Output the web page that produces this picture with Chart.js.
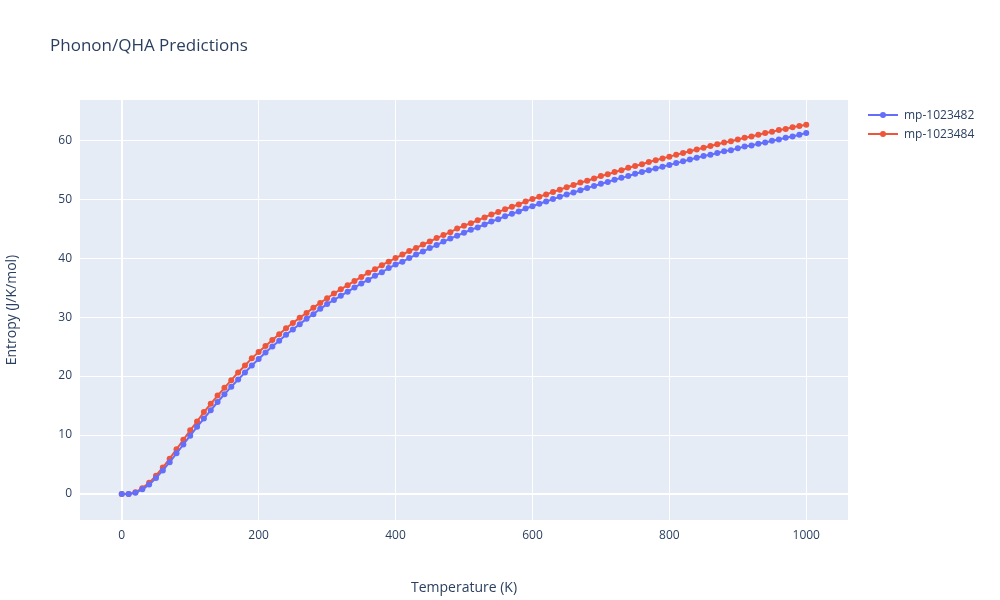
<!DOCTYPE html>
<html>
<head>
<meta charset="utf-8">
<script src="https://cdn.jsdelivr.net/npm/chart.js@4/dist/chart.umd.min.js"></script>
<style>
  body { margin: 0; background: #fff; font-family: "Open Sans", sans-serif; }
  #wrap { position: relative; width: 1000px; height: 600px; }
  #title { position: absolute; left: 50px; top: 33px; font-size: 17px; color: #2a3f5f; }
  #legend { position: absolute; left: 868px; top: 105px; font-size: 12px; color: #2a3f5f; }
  .item { height: 19px; display: flex; align-items: center; }
  .sw { position: relative; width: 30px; height: 2px; margin-right: 6px; }
  .sw i { position: absolute; left: 12px; top: -2px; width: 6px; height: 6px; border-radius: 3px; }
</style>
</head>
<body>
<div id="wrap">
  <canvas id="c" width="1000" height="600"></canvas>
  <div id="title">Phonon/QHA Predictions</div>
  <div id="legend"></div>
</div>
<script>
const temps = [];
for (let t = 0; t <= 1000; t += 10) temps.push(t);

const names = ["mp-1023482", "mp-1023484"];
const colors = ["#636efa", "#ef553b"];

const blue = [0, 0.01, 0.2, 0.8, 1.6, 2.7, 4.0, 5.4, 6.9, 8.4, 9.9, 11.4, 12.8, 14.2, 15.6, 16.9, 18.2, 19.4, 20.6, 21.8,
  22.9, 24.0, 25.0, 26.0, 27.0, 27.9, 28.8, 29.7, 30.5, 31.4,
  32.2, 32.9, 33.6, 34.3, 35.0, 35.7, 36.3, 37.0, 37.6, 38.3,
  38.9, 39.4, 40.0, 40.6, 41.1, 41.7, 42.2, 42.8, 43.3, 43.8,
  44.3, 44.8, 45.2, 45.7, 46.2, 46.6, 47.1, 47.5, 47.9, 48.4,
  48.8, 49.2, 49.6, 50.0, 50.4, 50.8, 51.1, 51.5, 51.9, 52.2,
  52.6, 52.9, 53.3, 53.6, 53.9, 54.3, 54.6, 54.9, 55.2, 55.5,
  55.8, 56.1, 56.4, 56.7, 57.0, 57.3, 57.5, 57.8, 58.1, 58.3,
  58.6, 58.9, 59.1, 59.4, 59.6, 59.9, 60.1, 60.4, 60.6, 60.9, 61.2];

const red = [0, 0.02, 0.3, 1.0, 1.9, 3.1, 4.5, 6.0, 7.6, 9.2, 10.8, 12.3, 13.9, 15.3, 16.7, 18.0, 19.3, 20.6, 21.8, 23.0,
  24.1, 25.1, 26.1, 27.1, 28.1, 29.0, 29.9, 30.7, 31.6, 32.4,
  33.2, 34.0, 34.7, 35.4, 36.1, 36.8, 37.5, 38.1, 38.8, 39.4,
  40.0, 40.6, 41.2, 41.7, 42.3, 42.8, 43.4, 43.9, 44.4, 45.0,
  45.5, 45.9, 46.4, 46.9, 47.4, 47.8, 48.3, 48.7, 49.1, 49.6,
  50.0, 50.4, 50.8, 51.2, 51.6, 52.0, 52.4, 52.8, 53.1, 53.5,
  53.9, 54.2, 54.6, 54.9, 55.3, 55.6, 55.9, 56.3, 56.6, 56.9,
  57.2, 57.5, 57.8, 58.1, 58.4, 58.7, 59.0, 59.3, 59.6, 59.8,
  60.1, 60.4, 60.6, 60.9, 61.2, 61.4, 61.7, 61.9, 62.2, 62.4, 62.6];

const series = [blue, red];

document.getElementById("legend").innerHTML = names.map((n, i) =>
  `<div class="item"><div class="sw" style="background:${colors[i]}"><i style="background:${colors[i]}"></i></div>${n}</div>`
).join("");

const bgPlugin = {
  id: "bg",
  beforeDraw(chart) {
    const a = chart.chartArea, ctx = chart.ctx;
    ctx.save();
    ctx.fillStyle = "#e5ecf6";
    ctx.fillRect(a.left, a.top, a.right - a.left, a.bottom - a.top);
    ctx.restore();
  }
};

const font = { family: "Open Sans", size: 12 };

new Chart(document.getElementById("c").getContext("2d"), {
  type: "line",
  data: {
    datasets: series.map((s, i) => ({
      label: names[i],
      data: s.map((v, j) => ({ x: temps[j], y: v })),
      borderColor: colors[i],
      backgroundColor: colors[i],
      borderWidth: 2,
      pointRadius: 3,
      pointBorderWidth: 0,
      tension: 0
    }))
  },
  options: {
    responsive: false,
    animation: false,
    layout: { padding: { left: 0, top: 100, right: 152, bottom: 0 } },
    plugins: { legend: { display: false }, tooltip: { enabled: false } },
    scales: {
      x: {
        type: "linear", min: -61, max: 1061,
        afterFit: s => { s.height = 80; },
        border: { display: false },
        grid: { color: c => c.tick.value === 0 ? "#ffffff" : "#ffffff", lineWidth: c => c.tick.value === 0 ? 2 : 1, drawTicks: false },
        ticks: { stepSize: 200, color: "#2a3f5f", font, padding: 8,
          callback: v => (v % 200 === 0 ? v : "") },
        afterBuildTicks: s => { s.ticks = [0, 200, 400, 600, 800, 1000].map(v => ({ value: v })); },
        title: { display: true, text: "Temperature (K)", color: "#2a3f5f", font: { family: "Open Sans", size: 14 }, padding: { top: 10 } }
      },
      y: {
        min: -4.4, max: 66.8,
        afterFit: s => { s.width = 80; },
        afterBuildTicks: s => { s.ticks = [0, 10, 20, 30, 40, 50, 60].map(v => ({ value: v })); },
        border: { display: false },
        grid: { color: "#ffffff", lineWidth: c => c.tick.value === 0 ? 2 : 1, drawTicks: false },
        ticks: { color: "#2a3f5f", font, padding: 8 },
        title: { display: true, text: "Entropy (J/K/mol)", color: "#2a3f5f", font: { family: "Open Sans", size: 14 }, padding: { bottom: 6 } }
      }
    }
  },
  plugins: [bgPlugin]
});
</script>
</body>
</html>
